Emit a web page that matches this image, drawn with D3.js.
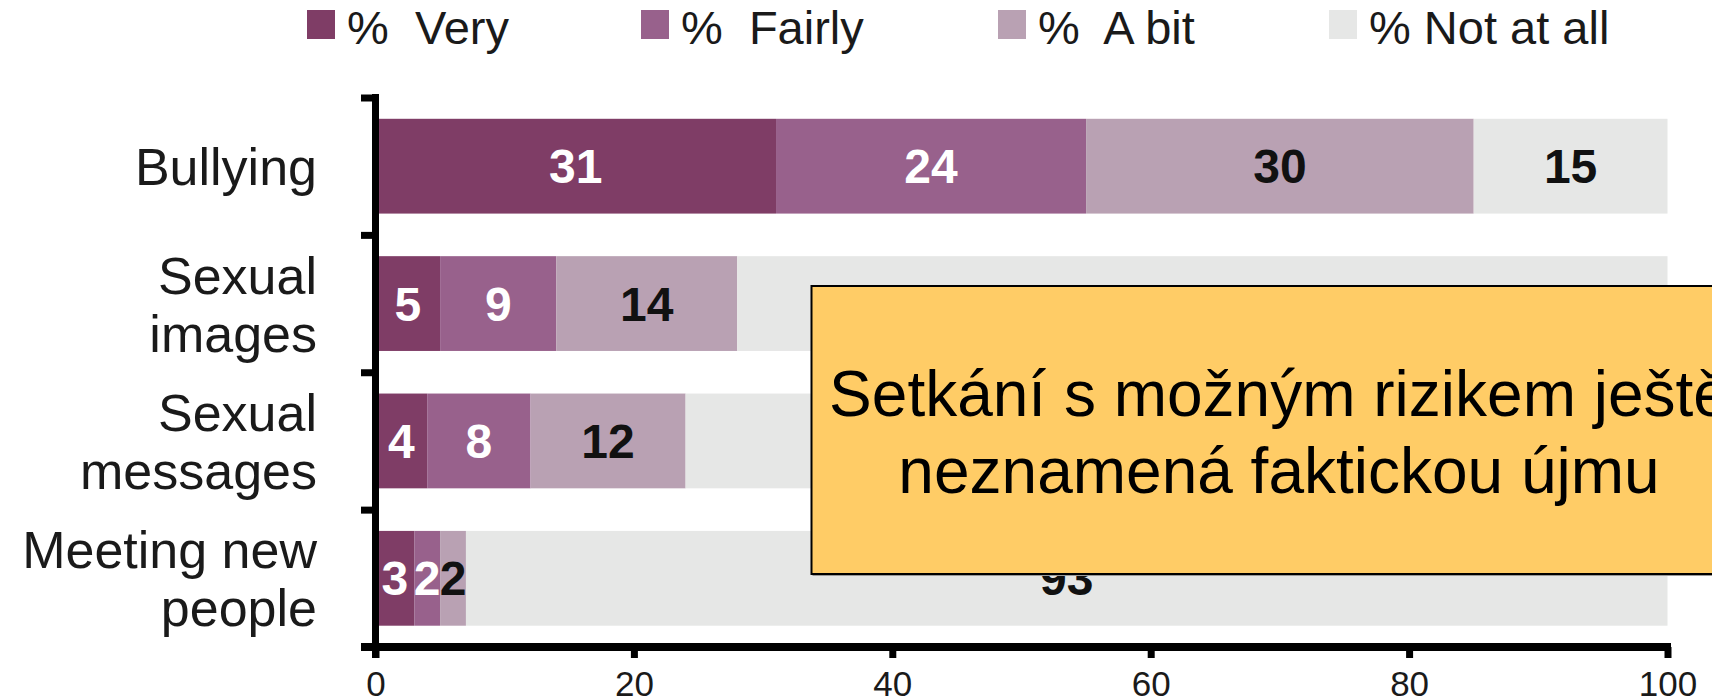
<!DOCTYPE html>
<html>
<head>
<meta charset="utf-8">
<script src="https://cdn.jsdelivr.net/npm/d3@7"></script>
<style>
  html, body { margin: 0; padding: 0; background: #fff; }
  svg { display: block; font-family: "Liberation Sans", Arial, sans-serif; }
</style>
</head>
<body>
<svg id="chart" width="1712" height="700"></svg>
<script>
// ---- data ----
const categories = ["Bullying", "Sexual images", "Sexual messages", "Meeting new people"];
const categoryLines = [["Bullying"], ["Sexual", "images"], ["Sexual", "messages"], ["Meeting new", "people"]];
const seriesNames = ["%  Very", "%  Fairly", "%  A bit", "% Not at all"];
const very      = [31, 5, 4, 3];
const fairly    = [24, 9, 8, 2];
const aBit      = [30, 14, 12, 2];
const notAtAll  = [15, 72, 76, 93];
const xTickValues = [0, 20, 40, 60, 80, 100];
const noteLines = ["Setkání s možným rizikem ještě", "neznamená faktickou újmu"];

// ---- styles ----
const colors = ["#7f3d66", "#98618c", "#b9a1b3", "#e6e7e6"];
const labelColors = ["#ffffff", "#ffffff", "#111111", "#111111"];
const legendX = [307, 641, 998, 1329];
const noteBox = { x: 811.5, y: 286, w: 940, h: 288 };

const svg = d3.select("#chart");
const seriesValues = [very, fairly, aBit, notAtAll];

const x = d3.scaleLinear().domain([0, 100]).range([375.5, 1667.5]);
const y = d3.scaleBand().domain(categories).range([97.5, 647]).paddingInner(0.31).paddingOuter(0.155);

// stacked data
const rows = categories.map((c, i) => {
  let acc = 0;
  return seriesValues.map((s, k) => {
    const d = { cat: c, k, v: s[i], x0: acc, x1: acc + s[i] };
    acc += s[i];
    return d;
  });
});
const segs = rows.flat();

// bars
svg.append("g").selectAll("rect").data(segs).join("rect")
  .attr("x", d => x(d.x0))
  .attr("y", d => y(d.cat))
  .attr("width", d => x(d.x1) - x(d.x0))
  .attr("height", y.bandwidth())
  .attr("fill", d => colors[d.k]);

// bar labels (those fully covered by the note box are not drawn)
const labelY = d => y(d.cat) + y.bandwidth() / 2 + 17;
const hidden = d => {
  const cx = (x(d.x0) + x(d.x1)) / 2, cy = labelY(d);
  return cx > noteBox.x + 40 && cy - 40 > noteBox.y && cy < noteBox.y + noteBox.h;
};
svg.append("g").selectAll("text").data(segs.filter(d => !hidden(d))).join("text")
  .attr("x", d => (x(d.x0) + x(d.x1)) / 2)
  .attr("y", labelY)
  .attr("text-anchor", "middle")
  .attr("font-size", 48)
  .attr("font-weight", "bold")
  .attr("fill", d => labelColors[d.k])
  .text(d => d.v);

// category labels
const catG = svg.append("g");
categories.forEach((c, i) => {
  const lines = categoryLines[i];
  const cy = y(c) + y.bandwidth() / 2;
  const lh = 58;
  const first = cy + 19 - (lines.length - 1) * lh / 2;
  lines.forEach((ln, j) => {
    catG.append("text")
      .attr("x", 317)
      .attr("y", first + j * lh)
      .attr("text-anchor", "end")
      .attr("font-size", 52)
      .attr("fill", "#1a1a1a")
      .text(ln);
  });
});

// y axis
const boundaries = categories.map(c => y(c) - y.step() * y.paddingInner() / 2).concat([y.range()[1]]);
const yAxis = svg.append("g").attr("transform", "translate(375.5,0)")
  .call(d3.axisLeft(d3.scaleIdentity().domain([0, 700])).tickValues(boundaries.slice(0, 4)).tickSize(14.5).tickFormat(""));
yAxis.select(".domain").remove();
yAxis.selectAll(".tick line").attr("stroke", "#000").attr("stroke-width", 7);
svg.append("line").attr("x1", 375.5).attr("x2", 375.5).attr("y1", boundaries[0] - 3.5).attr("y2", 658)
  .attr("stroke", "#000").attr("stroke-width", 7);

// x axis
const xAxis = svg.append("g").attr("transform", "translate(0,647)")
  .call(d3.axisBottom(x).tickValues(xTickValues).tickSize(11).tickSizeOuter(0).tickPadding(13));
xAxis.select(".domain").remove();
xAxis.selectAll(".tick line").attr("stroke", "#000").attr("stroke-width", 7);
xAxis.selectAll(".tick text").attr("font-size", 35).attr("fill", "#1a1a1a")
  .attr("font-family", "'Liberation Sans', Arial, sans-serif");
xAxis.append("line").attr("x1", x(0) - 14.5).attr("x2", x(100) + 3.5).attr("y1", 0).attr("y2", 0)
  .attr("stroke", "#000").attr("stroke-width", 8);

// legend
const leg = svg.append("g");
seriesNames.forEach((n, k) => {
  leg.append("rect").attr("x", legendX[k]).attr("y", 10).attr("width", 28).attr("height", 29).attr("fill", colors[k]);
  leg.append("text").attr("x", legendX[k] + 40).attr("y", 44)
    .attr("font-size", 47).attr("fill", "#1a1a1a")
    .style("white-space", "pre")
    .text(n);
});

// note box
const note = svg.append("g");
note.append("rect").attr("x", noteBox.x + 1).attr("y", noteBox.y + 2).attr("width", noteBox.w).attr("height", noteBox.h).attr("fill", "#9a9a9a");
note.append("rect").attr("x", noteBox.x).attr("y", noteBox.y).attr("width", noteBox.w).attr("height", noteBox.h)
  .attr("fill", "#ffcc66").attr("stroke", "#000").attr("stroke-width", 2);
noteLines.forEach((t, i) => {
  note.append("text").attr("x", 1279).attr("y", 416 + i * 77)
    .attr("text-anchor", "middle").attr("font-size", 64).attr("fill", "#000")
    .text(t);
});
</script>
</body>
</html>
